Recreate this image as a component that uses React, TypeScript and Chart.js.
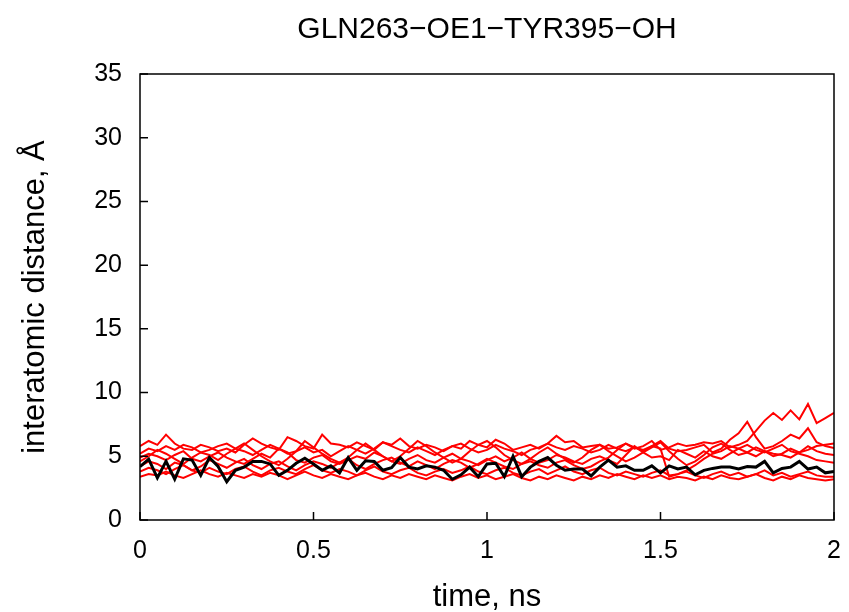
import React, { useEffect, useRef } from "react";
import { Chart, registerables } from "chart.js";

Chart.register(...registerables);

const TITLE = "GLN263\u2212OE1\u2212TYR395\u2212OH";
const X_TITLE = "time, ns";
const Y_TITLE = "interatomic distance, \u00C5";
const X_TICKS = [0, 0.5, 1, 1.5, 2];
const Y_TICKS = [0, 5, 10, 15, 20, 25, 30, 35];

// time grid, ns (step 0.025)
const TIME = Array.from({ length: 81 }, (_, i) => +(i * 0.025).toFixed(3));

const BLACK = [
  4.18, 4.78, 3.3, 4.6, 3.2, 4.8, 4.7, 3.5, 4.9, 4.2,
  3.0, 3.9, 4.15, 4.6, 4.6, 4.4, 3.5, 3.9, 4.45, 4.85,
  4.4, 3.9, 4.25, 3.7, 4.9, 3.9, 4.65, 4.6, 3.9, 4.1,
  4.9, 4.15, 4.0, 4.25, 4.15, 3.9, 3.2, 3.55, 4.15, 3.4,
  4.4, 4.45, 3.4, 5.0, 3.4, 4.15, 4.6, 4.9, 4.3, 3.9,
  4.0, 4.0, 3.45, 4.15, 4.7, 4.15, 4.25, 3.9, 3.9, 4.25,
  3.7, 4.25, 4.0, 4.15, 3.55, 3.9, 4.05, 4.15, 4.15, 4.0,
  4.2, 4.15, 4.6, 3.7, 4.05, 4.15, 4.6, 4.0, 4.15, 3.7, 3.8,
];

const RED_A = [
  5.8, 6.2, 5.9, 6.7, 6.0, 5.6, 5.5, 5.9, 5.7, 5.4,
  5.6, 5.3, 5.9, 6.4, 6.0, 5.7, 5.5, 6.5, 6.2, 5.8,
  5.6, 6.7, 6.0, 5.9, 5.7, 6.1, 5.8, 5.5, 6.1, 5.9,
  6.4, 5.8, 5.6, 5.9, 5.7, 5.4, 5.8, 5.6, 6.2, 5.9,
  5.7, 6.3, 6.0, 5.5, 5.7, 5.9, 5.6, 6.0, 6.6, 6.1,
  6.2, 5.7, 5.8, 5.9, 5.6, 5.7, 6.0, 5.6, 5.8, 6.2,
  5.5, 5.7, 6.0, 5.8, 5.9, 6.1, 6.0, 6.2, 5.7, 5.9,
  6.2, 7.0, 7.8, 8.4, 7.85, 8.6, 7.9, 9.1, 7.6, 8.0, 8.4,
];

const RED_B = [
  5.2, 5.6, 5.4, 5.8, 5.5, 5.9, 5.7, 5.3, 5.5, 5.8,
  6.0, 5.6, 5.4, 5.1, 5.5, 5.9, 5.6, 5.2, 5.4, 5.7,
  5.3, 5.5, 5.0, 5.4, 5.8, 5.5, 5.2, 5.6, 6.1, 5.8,
  5.5, 5.3, 5.7, 5.4, 5.1, 5.5, 5.8, 6.0, 5.6, 5.3,
  5.5, 5.9, 5.6, 5.4, 5.1, 5.5, 5.7, 6.0, 5.7, 5.5,
  5.8, 5.6, 5.3, 5.5, 5.9, 5.6, 5.4, 5.7, 5.5, 5.8,
  6.2, 5.6, 5.4, 5.5, 5.7, 5.9, 5.3, 5.6, 6.3, 6.8,
  7.7, 6.5, 5.6, 5.8, 6.2, 6.7, 6.4, 7.2, 6.1, 5.8, 5.65,
];

const RED_C = [
  4.9, 5.2, 5.0, 4.7, 5.1, 5.4, 4.8, 4.6, 5.0, 5.3,
  4.9, 4.6, 4.4, 4.8, 5.2, 4.9, 5.6, 5.3, 4.7, 4.5,
  4.9, 5.1, 4.6, 4.4, 4.7, 5.0, 4.8, 5.3, 5.0, 4.6,
  4.4, 4.8, 5.1, 4.7, 4.5, 4.9, 5.2, 4.8, 4.6, 4.3,
  4.7, 5.0, 4.6, 4.9, 5.3, 4.8, 4.5, 4.7, 5.1, 4.9,
  4.6, 4.4, 4.8, 5.0, 4.7, 4.4, 5.1, 5.8, 5.3, 4.9,
  5.0, 4.7, 5.5, 5.2, 4.9, 5.4, 5.0, 4.8, 5.2, 5.6,
  5.3, 5.0, 5.4, 5.2, 5.1, 4.9, 5.3, 5.8, 5.4, 5.2, 5.1,
];

const RED_D = [
  4.2, 4.6, 4.4, 4.0, 4.5, 4.3, 3.9, 4.2, 4.7, 4.4,
  4.1, 4.5, 4.8, 4.3, 4.0, 4.4, 4.6, 4.2, 3.9, 4.3,
  4.6, 4.4, 4.1, 4.5, 4.8, 4.3, 4.0, 4.4, 4.7, 4.9,
  4.5, 4.2, 4.6, 4.3, 4.0, 4.4, 4.7, 4.5, 4.1, 4.4,
  4.8, 4.5, 4.2, 4.0, 4.4, 4.6, 4.3, 4.1, 4.5, 4.7,
  4.3, 4.0, 4.2, 4.6, 4.9, 5.5, 6.0, 5.7, 5.4, 5.8,
  5.6, 3.4, 3.6, 3.9, 4.3, 4.8, 5.2, 5.4, 5.8, 5.6,
  5.9, 5.5, 5.3, 5.6, 5.9, 5.4, 5.2, 5.0, 4.7, 4.6, 4.5,
];

const RED_E = [
  3.8, 4.1, 3.9, 3.6, 4.0, 4.3, 3.9, 3.7, 4.1, 3.8,
  3.6, 4.0, 4.2, 3.8, 3.5, 3.9, 4.1, 3.8, 3.6, 4.0,
  4.3, 3.9, 3.7, 4.0, 3.8, 3.5, 3.9, 4.2, 3.8, 3.6,
  3.9, 4.1, 3.7, 3.5, 3.8, 4.0, 3.7, 3.9, 4.2, 3.8,
  3.6, 3.9, 4.1, 3.7, 3.5, 3.8, 4.0, 3.6, 3.9, 4.2,
  3.8, 3.6, 3.9, 4.1, 3.7, 3.5, 3.8, 3.6, 3.4, 3.7,
  3.9, 3.5, 3.6, 3.8, 3.5, 3.3, 3.6, 3.8, 3.5, 3.7,
  3.4, 3.6, 3.9, 3.5, 3.7, 3.4, 3.6, 3.8, 3.5, 3.4, 3.4,
];

const RED_F = [
  3.4, 3.6, 3.5, 3.8, 3.5, 3.3, 3.6, 3.9, 3.6, 3.4,
  3.7, 3.5, 3.3, 3.6, 3.4, 3.7, 3.5, 3.2, 3.5, 3.8,
  3.5, 3.3, 3.6, 3.4, 3.2, 3.5, 3.7, 3.4, 3.2, 3.5,
  3.3, 3.6, 3.4, 3.2, 3.5, 3.3, 3.1, 3.4, 3.6, 3.3,
  3.5, 3.2, 3.4, 3.6, 3.3, 3.1, 3.4, 3.2, 3.5, 3.3,
  3.1, 3.4, 3.2, 3.5, 3.3, 3.6, 3.4, 3.2, 3.5, 3.3,
  3.5, 3.2, 3.4, 3.3, 3.1, 3.4, 3.2, 3.5, 3.3, 3.2,
  3.4, 3.6, 3.3, 3.1, 3.4, 3.2, 3.5, 3.3, 3.2, 3.1, 3.2,
];

const RED_G = [
  4.6, 5.0, 5.5, 5.2, 4.8, 4.4, 4.9, 5.3, 5.1, 4.7,
  5.2, 5.6, 6.0, 5.5, 5.0, 4.6, 4.3, 4.8, 5.4, 6.2,
  5.7, 5.2, 4.8, 4.5, 4.9, 5.5, 6.0, 5.5, 5.0, 4.6,
  5.0, 5.6, 6.2, 5.8, 5.3, 4.9, 4.5, 4.8, 5.4, 5.9,
  6.2, 5.7, 5.1, 4.7, 4.4, 4.8, 5.3, 5.7, 5.2, 4.8,
  4.5, 4.9, 5.5, 5.9, 5.4, 5.0, 4.6, 4.9, 5.3, 5.7,
  6.1, 5.4, 4.8, 4.3, 4.6, 5.1, 5.7, 6.0, 5.5, 5.1,
  5.3, 5.7, 5.4, 5.0, 5.2, 5.6, 5.3, 5.5, 5.8, 5.9, 6.0,
];

const RED_SERIES = [RED_A, RED_B, RED_C, RED_D, RED_E, RED_F, RED_G];

const FONT = "'Liberation Sans', Arial, Helvetica, sans-serif";

const frame = {
  id: "frame",
  afterDraw(chart: any) {
    const { ctx, chartArea: a } = chart;
    const xs = chart.scales.x;
    const ys = chart.scales.y;
    ctx.save();
    ctx.strokeStyle = "#000";
    ctx.lineWidth = 1.5;
    ctx.strokeRect(a.left, a.top, a.right - a.left, a.bottom - a.top);
    ctx.beginPath();
    xs.ticks.forEach((t: any) => {
      const px = xs.getPixelForValue(t.value);
      ctx.moveTo(px, a.bottom);
      ctx.lineTo(px, a.bottom - 8);
    });
    ys.ticks.forEach((t: any) => {
      const py = ys.getPixelForValue(t.value);
      ctx.moveTo(a.left, py);
      ctx.lineTo(a.left + 8, py);
    });
    ctx.stroke();
    ctx.fillStyle = "#000";
    ctx.textAlign = "center";
    ctx.textBaseline = "middle";
    const cx = (a.left + a.right) / 2;
    ctx.font = `30px ${FONT}`;
    ctx.fillText(TITLE, cx, 30);
    ctx.font = `31px ${FONT}`;
    ctx.fillText(X_TITLE, cx, 597);
    ctx.translate(35, (a.top + a.bottom) / 2);
    ctx.rotate(-Math.PI / 2);
    ctx.fillText(Y_TITLE, 0, 0);
    ctx.restore();
  },
};

export default function App() {
  const ref = useRef<HTMLCanvasElement>(null);
  useEffect(() => {
    if (!ref.current) return;
    const mk = (vals: number[]) => TIME.map((t, i) => ({ x: t, y: vals[i] }));
    const datasets: any[] = [
      {
        data: mk(BLACK),
        borderColor: "#000000",
        borderWidth: 3,
        pointRadius: 0,
        tension: 0,
      },
      ...RED_SERIES.map((s) => ({
        data: mk(s),
        borderColor: "#ff0000",
        borderWidth: 2,
        pointRadius: 0,
        tension: 0,
      })),
    ];
    const chart = new Chart(ref.current, {
      type: "line",
      data: { datasets },
      options: {
        responsive: false,
        animation: false,
        layout: { padding: { top: 74, right: 15, left: 0, bottom: 0 } },
        plugins: { legend: { display: false }, tooltip: { enabled: false }, title: { display: false } },
        scales: {
          x: {
            type: "linear",
            min: 0,
            max: 2,
            afterFit: (s: any) => {
              s.height = 92;
              s.paddingLeft = 0;
              s.paddingRight = 0;
            },
            afterBuildTicks: (s: any) => { s.ticks = X_TICKS.map((v) => ({ value: v })); },
            grid: { display: false, drawTicks: false },
            border: { display: false },
            ticks: {
              color: "#000",
              padding: 16,
              font: { family: FONT, size: 25 },
              maxRotation: 0,
              callback: (v: any) => String(v),
            },
          },
          y: {
            type: "linear",
            min: 0,
            max: 35,
            afterFit: (s: any) => {
              s.width = 140;
              s.paddingTop = 0;
              s.paddingBottom = 0;
            },
            afterBuildTicks: (s: any) => { s.ticks = Y_TICKS.map((v) => ({ value: v })); },
            grid: { display: false, drawTicks: false },
            border: { display: false },
            ticks: {
              color: "#000",
              padding: 18,
              font: { family: FONT, size: 25 },
              callback: (v: any) => String(v),
            },
          },
        },
      },
      plugins: [frame],
    });
    return () => chart.destroy();
  }, []);
  return (
    <div style={{ position: "fixed", left: 0, top: 0, width: 849, height: 612, background: "#fff" }}>
      <canvas ref={ref} width={849} height={612} style={{ display: "block" }} />
    </div>
  );
}
